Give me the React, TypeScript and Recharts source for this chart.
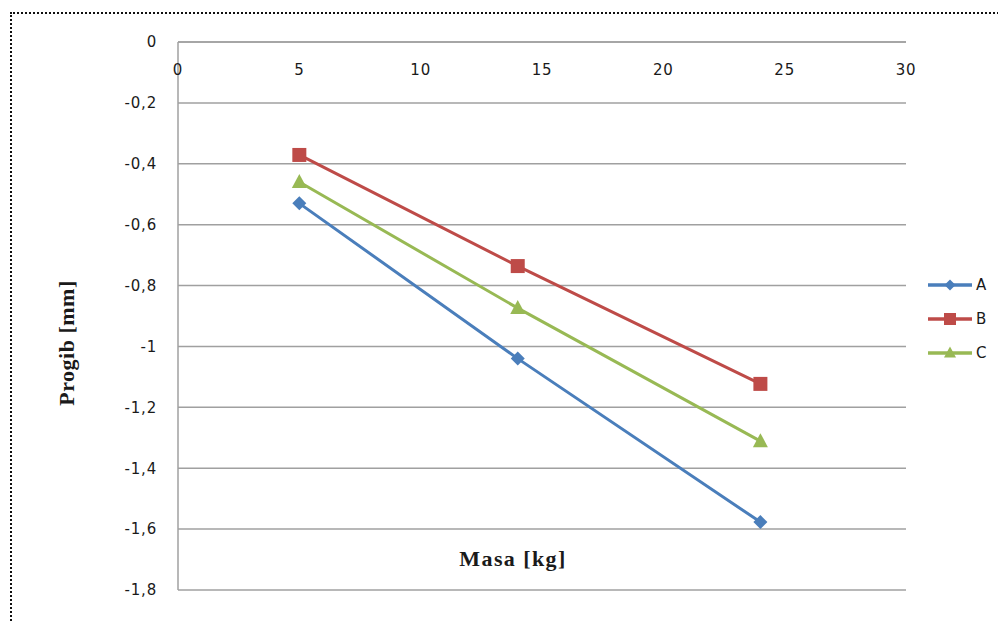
import React from 'react';
import { LineChart, Line, XAxis, YAxis, CartesianGrid, Legend, Label } from 'recharts';

// masa [kg] na osi X
const massValues = [5, 14, 24];
// progib [mm] za svaki uzorak
const seriesA = [-0.53, -1.04, -1.577];
const seriesB = [-0.371, -0.736, -1.123];
const seriesC = [-0.46, -0.874, -1.311];

const xTicks = [0, 5, 10, 15, 20, 25, 30];
const yTicks = [0, -0.2, -0.4, -0.6, -0.8, -1, -1.2, -1.4, -1.6, -1.8];

const toPoints = (vals: number[]) => massValues.map((x, i) => ({ x, y: vals[i] }));

const series = [
  { name: 'A', data: toPoints(seriesA), color: '#4A7EBB', shape: 'diamond' },
  { name: 'B', data: toPoints(seriesB), color: '#BE4B48', shape: 'square' },
  { name: 'C', data: toPoints(seriesC), color: '#98B954', shape: 'triangle' },
];

const TEXT = '#1a1a1a';
const GRID = '#A0A0A0';
const tickFont = { fontFamily: 'DejaVu Sans', fontSize: 15, letterSpacing: 0.8 };
const titleFont = { fontFamily: 'Liberation Serif', fontWeight: 'bold', fontSize: 22 };

function Marker({ cx, cy, shape, color, r = 7 }: { cx: number; cy: number; shape: string; color: string; r?: number }) {
  if (shape === 'diamond') {
    return <polygon points={`${cx},${cy - r} ${cx + r},${cy} ${cx},${cy + r} ${cx - r},${cy}`} fill={color} />;
  }
  if (shape === 'square') {
    return <rect x={cx - r} y={cy - r} width={r * 2} height={r * 2} fill={color} />;
  }
  return <polygon points={`${cx},${cy - r - 1} ${cx + r + 0.5},${cy + r - 1} ${cx - r - 0.5},${cy + r - 1}`} fill={color} />;
}

const makeDot = (shape: string, color: string) => (props: any) => {
  const { cx, cy, index } = props;
  if (cx == null || cy == null) return <g key={index} />;
  return <Marker key={index} cx={cx} cy={cy} shape={shape} color={color} />;
};

const XTick = (props: any) => {
  const { x, y, payload } = props;
  return (
    <text x={x} y={y + 30} textAnchor="middle" dominantBaseline="central" fill={TEXT} style={tickFont}>
      {payload.value}
    </text>
  );
};

const renderLegend = () => (
  <div style={{ display: 'flex', flexDirection: 'column', gap: 10 }}>
    {series.map((s) => (
      <div key={s.name} style={{ display: 'flex', alignItems: 'center', height: 24 }}>
        <svg width={48} height={20}>
          <line x1={2} x2={46} y1={10} y2={10} stroke={s.color} strokeWidth={3.5} />
          <Marker cx={24} cy={10} shape={s.shape} color={s.color} r={s.shape === 'square' ? 6 : 5.5} />
        </svg>
        <span style={{ ...tickFont, color: TEXT, marginLeft: 2 }}>{s.name}</span>
      </div>
    ))}
  </div>
);

export default function App() {
  return (
    <div style={{ position: 'absolute', left: 0, top: 0, width: 998, height: 622, overflow: 'hidden', background: '#fff' }}>
      <div
        style={{
          position: 'absolute',
          left: 10,
          top: 12,
          width: 1000,
          height: 700,
          border: '2px dotted #111',
        }}
      />
      <div style={{ position: 'absolute', left: 0, top: 0 }}>
        <LineChart width={998} height={622} margin={{ top: 12, right: 92, bottom: 32, left: 0 }}>
          <CartesianGrid vertical={false} stroke={GRID} strokeWidth={1.5} />
          <XAxis
            type="number"
            dataKey="x"
            orientation="top"
            height={30}
            domain={[0, 30]}
            ticks={xTicks}
            tickLine={false}
            tickSize={0}
            tick={<XTick />}
            axisLine={{ stroke: GRID, strokeWidth: 1.5 }}
            allowDataOverflow
          >
            <Label
              content={() => (
                <text
                  x={513}
                  y={558}
                  textAnchor="middle"
                  dominantBaseline="central"
                  fill={TEXT}
                  style={{ ...titleFont, letterSpacing: 1.4 }}
                >
                  Masa [kg]
                </text>
              )}
            />
          </XAxis>
          <YAxis
            type="number"
            width={178}
            domain={[-1.8, 0]}
            ticks={yTicks}
            tickLine={false}
            tickSize={0}
            tickMargin={21}
            tick={{ ...tickFont, fill: TEXT }}
            tickFormatter={(v: number) => String(v).replace('.', ',')}
            axisLine={{ stroke: GRID, strokeWidth: 1.5 }}
            allowDataOverflow
          >
            <Label
              content={() => (
                <text
                  x={66}
                  y={343}
                  transform="rotate(-90 66 343)"
                  textAnchor="middle"
                  dominantBaseline="central"
                  fill={TEXT}
                  style={{ ...titleFont, letterSpacing: 0.5 }}
                >
                  Progib [mm]
                </text>
              )}
            />
          </YAxis>
          <Legend
            layout="vertical"
            align="center"
            verticalAlign="middle"
            content={renderLegend}
            wrapperStyle={{ left: 926, top: 273, width: 70, right: 'auto', bottom: 'auto' }}
          />
          {series.map((s) => (
            <Line
              key={s.name}
              name={s.name}
              data={s.data}
              dataKey="y"
              stroke={s.color}
              strokeWidth={3}
              dot={makeDot(s.shape, s.color)}
              activeDot={false}
              isAnimationActive={false}
            />
          ))}
        </LineChart>
      </div>
    </div>
  );
}
